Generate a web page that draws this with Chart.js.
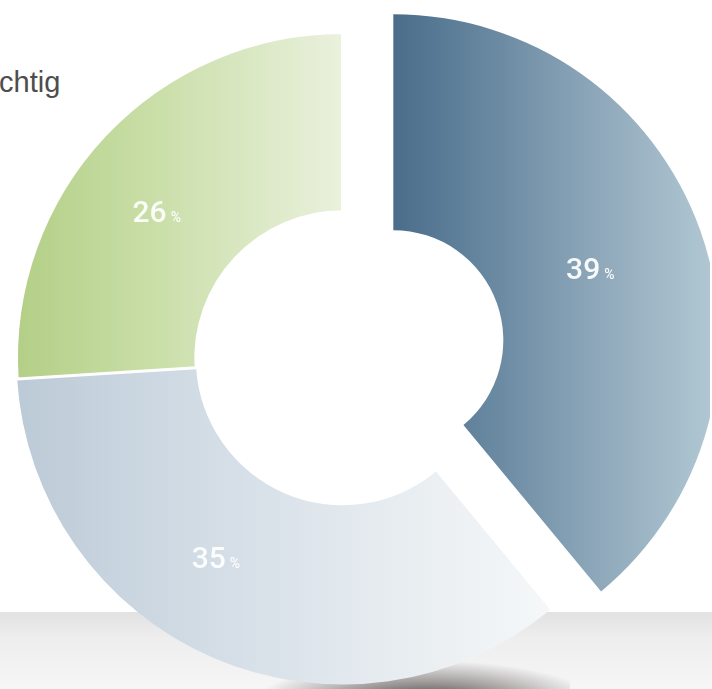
<!DOCTYPE html>
<html>
<head>
<meta charset="utf-8">
<script src="https://cdn.jsdelivr.net/npm/chart.js@4.4.0/dist/chart.umd.min.js"></script>
<style>
  html, body { margin: 0; padding: 0; }
  body { width: 712px; height: 689px; overflow: hidden; position: relative; background: #fff; }
  #floor { position: absolute; left: 0; top: 612px; width: 712px; height: 77px;
           background: linear-gradient(to bottom, #e2e2e2 0%, #eeeeee 35%, #f6f6f6 100%); }
  #shadow { position: absolute; left: 250px; top: 660px; width: 320px; height: 64px;
            background: radial-gradient(ellipse at 55% 70%, rgba(35,25,25,0.92) 0%, rgba(70,60,60,0.5) 35%, rgba(255,255,255,0) 70%); }
  #caption { position: absolute; left: -1px; top: 68px; font: 29px/29px "Liberation Sans", sans-serif; color: #4d4d4d; }
  #wrap { position: absolute; left: -25.5px; top: -9.5px; }
</style>
</head>
<body>
<div id="floor"></div>
<div id="shadow"></div>
<div id="caption">chtig</div>
<div id="wrap"><canvas id="doughnutChart" width="735" height="735"></canvas></div>
<script>
// clockwise from 12 o'clock
const categories = ['Anteil 1', 'Anteil 2', 'Anteil 3']
const values = [39, 35, 26]

// how far each slice is pulled out of the ring (px), and the hole size it keeps
const explode = [54, 0, 0]
const explodedInner = 110
// small turn of each label away from the slice middle (degrees)
const labelTurn = [0, 9, -5]

// page x -> canvas x (canvas sits 25.5px left of the page)
const shiftX = 25.5

const gradientStops = [
    [[393, '#4a6d8b'], [500, '#6c8ba3'], [600, '#8fa9bb'], [712, '#b1c7d3']],
    [[15, '#bccad7'], [200, '#d2dce5'], [400, '#e8edf1'], [560, '#f6f8f9']],
    [[15, '#b3cf86'], [150, '#c9dea7'], [342, '#eaf1dd']]
]

const gradCache = {}
function fillFor(context) {
    const chart = context.chart
    if (!chart.chartArea) return '#ccc'
    const i = context.dataIndex
    if (gradCache[i]) return gradCache[i]
    const stops = gradientStops[i]
    const x0 = stops[0][0], x1 = stops[stops.length - 1][0]
    const g = chart.ctx.createLinearGradient(x0 + shiftX, 0, x1 + shiftX, 0)
    stops.forEach(s => g.addColorStop((s[0] - x0) / (x1 - x0), s[1]))
    gradCache[i] = g
    return g
}

// move exploded slices outward along their middle angle
const explodeSlices = {
    id: 'explodeSlices',
    afterDatasetUpdate(chart) {
        chart.getDatasetMeta(0).data.forEach((arc, i) => {
            const mid = (arc.startAngle + arc.endAngle) / 2
            arc.baseX = arc.x
            arc.baseY = arc.y
            arc.midRadius = (arc.innerRadius + arc.outerRadius) / 2
            if (explode[i]) {
                arc.x += Math.cos(mid) * explode[i]
                arc.y += Math.sin(mid) * explode[i]
                arc.innerRadius = explodedInner
            }
        })
    }
}

const pctLabels = {
    id: 'pctLabels',
    afterDatasetsDraw(chart) {
        const c = chart.ctx
        chart.getDatasetMeta(0).data.forEach((arc, i) => {
            const mid = (arc.startAngle + arc.endAngle) / 2 + labelTurn[i] * Math.PI / 180
            const r = arc.midRadius + explode[i] / 2
            const px = arc.baseX + Math.cos(mid) * r
            const py = arc.baseY + Math.sin(mid) * r
            const num = String(values[i])
            const big = '500 30px Roboto'
            const small = '500 14px Roboto'
            c.save()
            c.fillStyle = 'rgba(255,255,255,0.93)'
            c.textBaseline = 'alphabetic'
            c.font = big
            const w1 = c.measureText(num).width
            c.font = small
            const w2 = c.measureText('%').width
            const gap = 4
            const x = px - (w1 + gap + w2) / 2
            c.font = big
            c.fillText(num, x, py + 10)
            c.font = small
            c.fillText('%', x + w1 + gap, py + 10)
            c.restore()
        })
    }
}

const ctxDoughnutChart = document.getElementById('doughnutChart').getContext('2d')

new Chart(ctxDoughnutChart, {
    type: 'doughnut',
    data: {
        labels: categories,
        datasets: [{
            data: values,
            backgroundColor: fillFor,
            borderColor: '#ffffff',
            borderWidth: [0, 0, 3],
            hoverOffset: 0
        }]
    },
    options: {
        responsive: false,
        animation: false,
        events: [],
        cutout: '45%',
        layout: { padding: 40 },
        plugins: { legend: { display: false }, tooltip: { enabled: false } }
    },
    plugins: [explodeSlices, pctLabels]
})
</script>
</body>
</html>
